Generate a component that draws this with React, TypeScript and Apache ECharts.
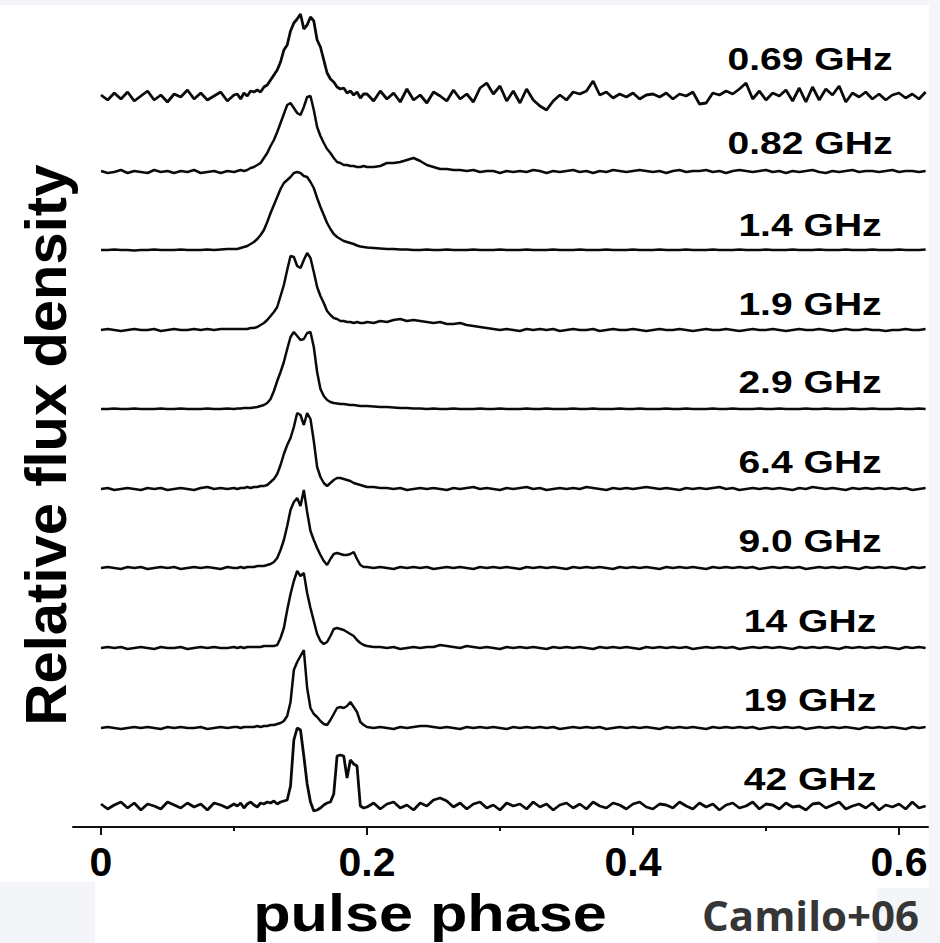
import React, { useEffect, useRef } from "react";
import * as echarts from "echarts";

// Pulse phase sample grid (coarse off-pulse, fine across the pulse)
const PHASE: number[] = [
  // 0 – 0.1
  0, 0.005, 0.01, 0.015, 0.02, 0.025, 0.03, 0.035, 0.04, 0.045, 0.05, 0.055, 0.06, 0.065, 0.07, 0.075, 0.08, 0.085, 0.09, 0.095, 0.1,
  // 0.1025 – 0.1975
  0.1025, 0.105, 0.1075, 0.11, 0.1125, 0.115, 0.1175, 0.12, 0.1225, 0.125, 0.1275, 0.13, 0.1325, 0.135, 0.1375, 0.14, 0.1425, 0.145, 0.1475, 0.15,
  0.1525, 0.155, 0.1575, 0.16, 0.1625, 0.165, 0.1675, 0.17, 0.1725, 0.175, 0.1775, 0.18, 0.1825, 0.185, 0.1875, 0.19, 0.1925, 0.195, 0.1975,
  // 0.2 – 0.62
  0.2, 0.205, 0.21, 0.215, 0.22, 0.225, 0.23, 0.235, 0.24, 0.245, 0.25, 0.255, 0.26, 0.265, 0.27, 0.275, 0.28, 0.285, 0.29, 0.295,
  0.3, 0.305, 0.31, 0.315, 0.32, 0.325, 0.33, 0.335, 0.34, 0.345, 0.35, 0.355, 0.36, 0.365, 0.37, 0.375, 0.38, 0.385, 0.39, 0.395,
  0.4, 0.405, 0.41, 0.415, 0.42, 0.425, 0.43, 0.435, 0.44, 0.445, 0.45, 0.455, 0.46, 0.465, 0.47, 0.475, 0.48, 0.485, 0.49, 0.495,
  0.5, 0.505, 0.51, 0.515, 0.52, 0.525, 0.53, 0.535, 0.54, 0.545, 0.55, 0.555, 0.56, 0.565, 0.57, 0.575, 0.58, 0.585, 0.59, 0.595,
  0.6, 0.605, 0.61, 0.615, 0.62,
];

const FREQUENCIES = ["0.69 GHz", "0.82 GHz", "1.4 GHz", "1.9 GHz", "2.9 GHz", "6.4 GHz", "9.0 GHz", "14 GHz", "19 GHz", "42 GHz"];

// vertical offset (baseline) of each stacked profile, arbitrary flux units
const OFFSETS = [730, 655, 577, 497, 418, 338, 259, 179, 99, 21];

const P_069 = [
  2, -3, 4, -2, 5, -4, 1, 6, -3, 2, -5, 3, 0, 7, -2, 4, -3, 1, 5, -4, 2,
  3, -2, 4, 1, 6, 5, 7, 5, 10, 12, 17, 22, 27, 35, 47, 52, 66, 74, 78, 83, 68, 72, 80, 76, 57, 50, 37, 24, 18, 15, 10, 8, 9, 4, 6, 2, 5, -1, 3,
  3, -4, 6, -2, 4, -5, 8, -3, 2, -6, 5, 1, -4, 7, -2, 3, -5, 9, 14, 3, 11, -4, 6, -6, 8, -3, -9, -13, -4, 2, -3, 5, 3, 6, 16, 2, 5, -1, 3, 0,
  4, -2, 2, 3, 0, 4, -2, 3, 1, 5, -7, -6, 4, 2, 6, 3, 8, 14, -2, 6, -3, 4, 1, 7, -4, 9, -5, 10, -3, 8, 2, 11, -5, 4, 0, 5, -2, 3, -3, 2,
  4, -1, 3, -2, 5,
];
const P_082 = [
  1, -1, 0, 2, -1, 1, 0, -1, 2, 0, 1, -1, 1, 0, 2, -1, 0, 1, -1, 1, 0,
  1, 2, 1, 2, 4, 5, 7, 9, 14, 19, 26, 32, 40, 49, 58, 67, 69, 64, 59, 57, 65, 75, 76, 62, 45, 36, 29, 23, 19, 14, 10, 9, 7, 7, 6, 6, 5, 5, 6,
  5, 5, 6, 9, 9, 10, 12, 14, 11, 7, 5, 3, 3, 2, 2, 1, 2, 0, 1, 1, -1, 1, 0, 1, 0, 2, 1, -1, 1, 0, 1, 2, 0, 1, -1, 1, 0, 2, 1, 0,
  1, 2, 1, 0, 1, -1, 1, 2, 0, 1, 1, 2, 0, 1, -1, 1, 2, 1, 0, 1, 2, 0, 1, -1, 1, 0, 1, 2, 0, -1, 1, 0, 1, 2, 0, 1, 1, 0, 1, 2,
  0, 1, 1, 0, 1,
];
const P_14 = [
  0, 0, 0.5, 0, 0, -0.5, 0, 0, 0.5, 0, 0, 0, 0.5, 0, 0, 0, 0.5, 0, 0.5, 1, 1,
  1, 2, 3, 4, 6, 8, 11, 15, 20, 28, 37, 45, 53, 61, 67, 70, 73, 77, 78, 77, 74, 73, 68, 62, 52, 43, 35, 27, 21, 16, 13, 11, 9, 8, 7, 6, 4.5, 3.5, 3,
  2.5, 2, 1.5, 1, 1, 0.5, 0.5, 0, 0, 0.5, 0, 0, 0.5, 0, 0, 0, 0.5, 0, 0, 0, 0.5, 0, 0, 0, 0.5, 0, 0, 0, 0.5, 0, 0, 0, 0.5, 0, 0, 0, 0.5, 0, 0, 0,
  0.5, 0, 0, 0, 0.5, 0, 0, 0, 0.5, 0, 0, 0, 0.5, 0, 0, 0, 0.5, 0, 0, 0, 0.5, 0, 0, 0, 0.5, 0, 0, 0, 0.5, 0, 0, 0, 0.5, 0, 0, 0, 0.5, 0, 0, 0,
  0.5, 0, 0, 0, 0.5,
];
const P_19 = [
  0, 1, 0, -1, 0, 1, 0, 0, 1, -1, 0, 1, 0, 0, 1, 0, 1, 0, 1, 1, 1,
  1, 1, 1, 1, 2, 2, 3, 5, 7, 10, 14, 18, 23, 34, 45, 60, 74, 73, 64, 62, 70, 77, 72, 58, 43, 34, 27, 19, 15, 12, 11, 9, 9, 8, 8, 7, 8, 7, 7,
  8, 7, 9, 8, 10, 11, 9, 10, 9, 8, 7, 8, 6, 6, 7, 5, 4, 3, 2, 1, 0, 1, 0, -1, 1, 0, 1, 0, 1, -1, 0, 1, 0, 0, 1, -1, 0, 1, 0, 0,
  1, 0, -1, 0, 1, 0, 0, 1, 0, -1, 0, 1, 0, 0, 1, 0, -1, 0, 1, 0, 0, 1, 0, -1, 0, 1, 0, 0, 1, 0, -1, 0, 1, 0, 0, 1, 0, 0, -1, 0,
  0, 1, 0, 0, 1,
];
const P_29 = [
  0, 0, 0.5, 0, 0, 0.5, 0, 0, 0, 0.5, 0, 0, 0.5, 0, 0, 0, 0.5, 0, 0, 0.5, 0,
  0.5, 0.5, 1, 1, 1, 1.5, 2, 3, 4, 6, 10, 18, 28, 37, 47, 60, 72, 77, 73, 69, 70, 76, 77, 62, 37, 20, 13, 9, 7, 6, 5.5, 5, 5, 4.5, 4, 4, 3.5, 3, 3,
  3, 2.5, 2, 2, 1.5, 1, 1, 0.5, 0.5, 0, 0.5, 0, 0, 0.5, 0, 0, 0, 0.5, 0, 0, 0.5, 0, 0, 0, 0.5, 0, 0, 0.5, 0, 0, 0, 0.5, 0, 0, 0.5, 0, 0, 0, 0.5, 0,
  0, 0.5, 0, 0, 0, 0.5, 0, 0, 0.5, 0, 0, 0, 0.5, 0, 0, 0.5, 0, 0, 0, 0.5, 0, 0, 0.5, 0, 0, 0, 0.5, 0, 0, 0.5, 0, 0, 0, 0.5, 0, 0, 0.5, 0, 0, 0,
  0.5, 0, 0, 0.5, 0,
];
const P_64 = [
  0, 1, -1, 0, 1, 0, -1, 1, 0, 1, -1, 0, 1, 0, -1, 1, 2, 0, 1, 0, 1,
  0, 1, 1, 2, 1, 2, 2, 3, 3, 4, 7, 10, 15, 24, 35, 44, 51, 62, 76, 74, 64, 76, 70, 48, 22, 12, 6, 3, 6, 9, 11, 11, 10, 9, 8, 6, 5, 4, 3,
  2, 2, 1, 1, 0, 1, -1, 0, 1, 0, 1, 0, -1, 1, 0, 1, 2, 0, 1, 0, -1, 1, 0, 1, 2, 0, 1, -1, 0, 1, 0, 1, 0, 2, 1, 0, -1, 1, 0, 1,
  0, 1, 2, 1, 0, 1, 0, -1, 1, 0, 1, 0, 1, 2, 0, 1, -1, 0, 1, 0, 1, 0, 1, 0, -1, 1, 0, 2, 1, 0, 1, 0, -1, 1, 0, 1, 0, 1, 0, 1,
  0, 1, -1, 0, 1,
];
const P_90 = [
  0, 1, 0, -1, 1, 0, 1, -1, 0, 1, 0, 1, -1, 0, 1, 0, 1, 0, -1, 1, 0,
  0, 1, 0, 1, 1, 1, 2, 2, 2, 3, 4, 6, 10, 18, 28, 42, 58, 66, 70, 62, 78, 56, 37, 28, 20, 13, 7, 3, 9, 14, 15, 14, 13, 13, 14, 16, 9, 3, 1,
  1, 0, 1, 0, -1, 1, 0, 1, 0, 1, -1, 0, 1, 0, 1, 0, -1, 1, 0, 1, 0, 1, 0, -1, 1, 0, 1, 0, 1, 0, -1, 1, 0, 1, 0, 1, 0, -1, 1, 0,
  1, 0, 1, 0, -1, 1, 0, 1, 0, 1, 0, -1, 1, 0, 1, 0, 1, 0, 1, -1, 0, 1, 0, 1, 0, 1, -1, 0, 1, 0, 1, 0, 1, 0, -1, 1, 0, 1, 0, 1,
  0, -1, 1, 0, 1,
];
const P_140 = [
  0, 1, 0, 1, -1, 0, 1, 0, -1, 1, 0, 0, 1, -1, 0, 1, 0, 1, 0, 0, 1,
  0, 1, 0, 1, 1, 1, 1, 1, 2, 2, 2, 2, 3, 10, 20, 38, 54, 67, 77, 72, 75, 55, 40, 27, 14, 7, 4, 6, 12, 19, 20, 19, 18, 16, 14, 12, 8, 5, 3,
  2, 1, 1, 0, 1, -1, 0, 1, 0, 1, 1, 3, 2, 1, 0, 2, 1, 0, 1, 0, -1, 1, 0, 1, 0, 1, 0, -1, 1, 0, 1, 0, 1, 0, -1, 1, 0, 1, 0, 1,
  0, -1, 1, 0, 1, 0, 1, 0, 1, -1, 0, 1, 0, 1, 0, 1, -1, 0, 1, 0, 1, 0, 1, 0, -1, 1, 0, 1, 0, 1, 0, -1, 1, 0, 1, 0, 1, 0, 1, 0,
  -1, 1, 0, 1, 0,
];
const P_190 = [
  0, 1, 0, -1, 0, 1, 0, 1, 0, -1, 1, 0, 1, 0, 0, 1, -1, 0, 1, 0, 1,
  1, 0, 1, 1, 1, 1, 2, 1, 2, 2, 3, 3, 4, 5, 7, 12, 26, 58, 66, 72, 78, 40, 20, 14, 11, 7, 4, 3, 8, 14, 20, 21, 20, 22, 26, 21, 16, 6, 3,
  1, 0, 1, 0, -1, 1, 0, 1, 2, 2, 1, 0, 1, 0, -1, 1, 0, 1, 0, 1, 0, -1, 1, 0, 1, 0, 1, 0, 1, -1, 0, 1, 0, 1, 0, 1, -1, 0, 1, 0,
  1, 0, 1, 0, -1, 1, 0, 1, 0, 1, 0, -1, 1, 0, 1, 0, 1, 0, 1, -1, 0, 1, 0, 1, 0, 1, -1, 0, 1, 0, 1, 0, 1, 0, -1, 1, 0, 1, 0, 1,
  0, -1, 1, 0, 1,
];
const P_420 = [
  2, -3, 1, 4, -2, 3, -4, 2, 0, -3, 4, 1, -2, 3, -1, 2, -4, 3, 1, -2, 2,
  0, 3, -2, 2, 4, 1, -1, 3, 2, 4, 3, 5, 2, 4, 5, 6, 20, 66, 78, 76, 50, 22, 4, -5, -4, -2, 1, 3, 4, 12, 50, 51, 50, 28, 46, 42, 40, 0, -2,
  -1, 3, -3, 2, 4, -2, 1, -4, 3, 0, 6, 8, 5, -1, 3, -3, 2, 4, -2, 1, -4, 3, 0, 2, -3, 4, -1, 2, -4, 1, 3, -2, 2, -3, 4, 0, -2, 3, 1, -3,
  2, 4, -1, -3, 2, 1, -2, 4, 0, -3, 3, -1, 2, -4, 1, 3, -2, 0, 4, -3, 2, 1, -3, 3, -1, 0, -4, 2, 3, -2, 1, 4, -3, 0, 2, -2, 3, -4, 1, -1,
  2, -3, 4, -2, 0,
];

const PROFILES = [P_069, P_082, P_14, P_19, P_29, P_64, P_90, P_140, P_190, P_420];

const MAJOR_TICKS = [0, 0.2, 0.4, 0.6];
const MINOR_TICKS = [0.1, 0.3, 0.5];

// layout (pixel) constants for annotations
const LABEL_X = 810;
const LABEL_Y = [59, 143, 225, 304, 382, 462, 541, 621, 700, 779];
const LINE_W = [2.8, 2.5, 2.5, 2.5, 2.5, 2.5, 2.5, 2.5, 2.5, 2.8];
const SANS = '"Liberation Sans", Arial, Helvetica, sans-serif';

export default function App() {
  const ref = useRef<HTMLDivElement>(null);

  useEffect(() => {
    if (!ref.current) return;
    const chart = echarts.init(ref.current, undefined, { renderer: "svg" });

    const series = PROFILES.map((prof, i) => ({
      type: "line",
      name: FREQUENCIES[i],
      xAxisIndex: 0,
      yAxisIndex: 0,
      showSymbol: false,
      symbol: "none",
      silent: true,
      lineStyle: { color: "#0a0a0a", width: LINE_W[i] },
      data: PHASE.map((p, j) => [p, OFFSETS[i] + (prof[j] ?? 0)]),
    }));

    const freqLabels = FREQUENCIES.map((t, i) => ({
      type: "text",
      x: LABEL_X,
      y: LABEL_Y[i],
      scaleX: 1.22,
      style: {
        text: t,
        fill: "#000",
        fontFamily: SANS,
        fontWeight: "bold",
        fontSize: 32,
        align: "center",
        verticalAlign: "middle",
      },
      z: 10,
    }));

    const bg = "#f4f5f8";
    chart.setOption({
      animation: false,
      backgroundColor: "#ffffff",
      grid: { left: 73, right: 12, top: 4, bottom: 116, containLabel: false },
      xAxis: [
        {
          type: "value",
          min: -0.02105,
          max: 0.6218,
          position: "bottom",
          axisLine: { show: true, onZero: false, lineStyle: { color: "#111", width: 2 } },
          axisTick: { show: true, customValues: MAJOR_TICKS, length: 8, lineStyle: { color: "#111", width: 2 } },
          axisLabel: {
            show: true,
            customValues: MAJOR_TICKS,
            margin: 14,
            color: "#000",
            fontFamily: SANS,
            fontWeight: "bold",
            fontSize: 41,
          },
          splitLine: { show: false },
        },
        {
          type: "value",
          min: -0.02105,
          max: 0.6218,
          position: "bottom",
          offset: 0,
          axisLine: { show: false },
          axisTick: { show: true, customValues: MINOR_TICKS, length: 4, lineStyle: { color: "#111", width: 2 } },
          axisLabel: { show: false },
          splitLine: { show: false },
        },
      ],
      yAxis: { type: "value", min: 0, max: 823, show: false },
      series,
      graphic: [
        { type: "rect", z: -5, shape: { x: 0, y: 0, width: 940, height: 5 }, style: { fill: bg } },
        { type: "rect", z: -5, shape: { x: 929, y: 0, width: 11, height: 943 }, style: { fill: bg } },
        { type: "rect", z: -5, shape: { x: 0, y: 882, width: 95, height: 61 }, style: { fill: bg } },
        { type: "rect", z: -5, shape: { x: 877, y: 888, width: 63, height: 55 }, style: { fill: bg } },
        ...freqLabels,
        {
          type: "text",
          x: 45,
          y: 445,
          rotation: Math.PI / 2,
          style: {
            text: "Relative flux density",
            fill: "#000",
            fontFamily: SANS,
            fontWeight: "bold",
            fontSize: 58,
            align: "center",
            verticalAlign: "middle",
          },
          z: 10,
        },
        {
          type: "text",
          x: 430,
          y: 913,
          scaleX: 1.2,
          style: {
            text: "pulse phase",
            fill: "#000",
            fontFamily: SANS,
            fontWeight: "bold",
            fontSize: 51,
            align: "center",
            verticalAlign: "middle",
          },
          z: 10,
        },
        {
          type: "text",
          x: 702,
          y: 914,
          style: {
            text: "Camilo+06",
            fill: "#363636",
            fontFamily: '"Open Sans", "Noto Sans", sans-serif',
            fontWeight: "bold",
            fontSize: 42,
            lineHeight: 44,
            align: "left",
            verticalAlign: "middle",
          },
          z: 10,
        },
      ],
    });

    return () => chart.dispose();
  }, []);

  return <div ref={ref} style={{ width: 940, height: 943, position: "absolute", left: 0, top: 0 }} />;
}
